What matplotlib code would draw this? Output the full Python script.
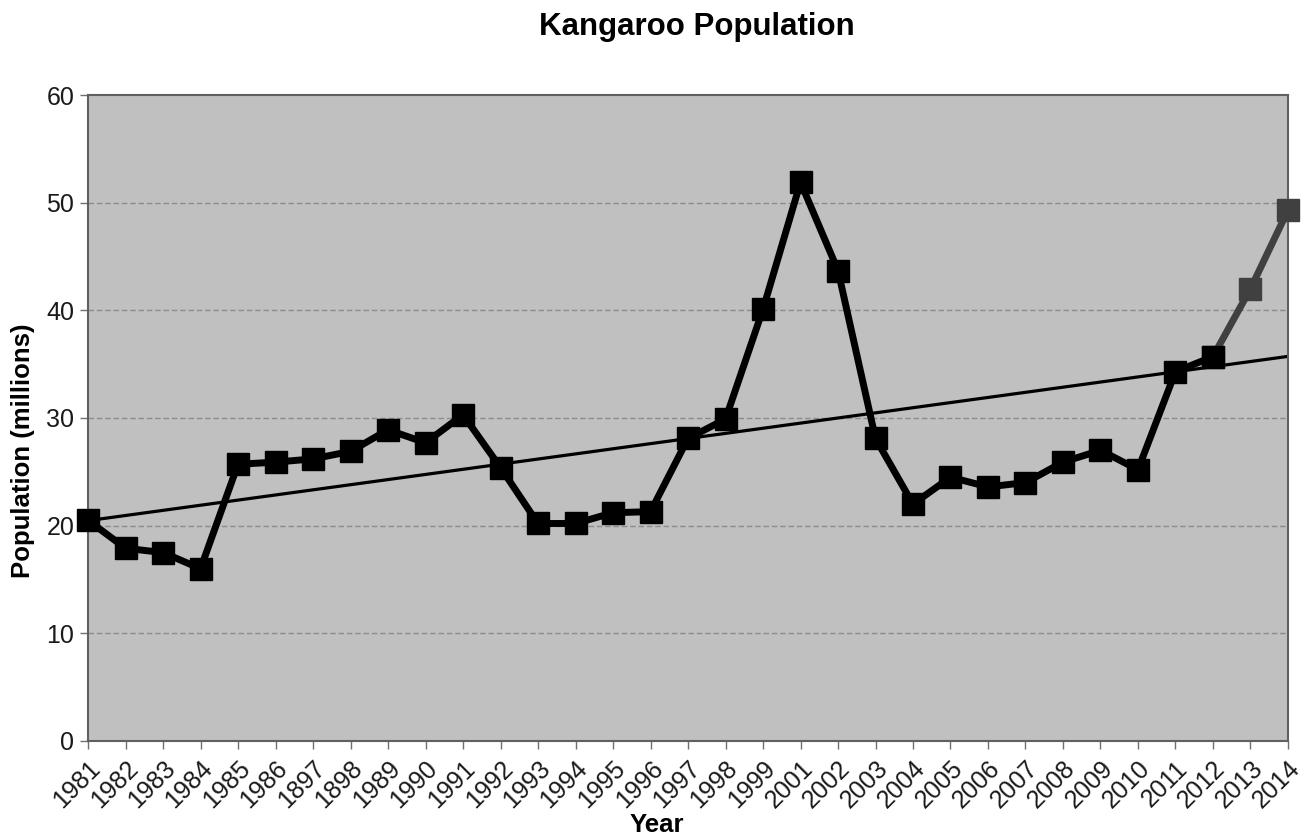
import numpy as np
import matplotlib
matplotlib.use("Agg")
import matplotlib.pyplot as plt

plt.rcParams['font.family'] = ['Liberation Sans', 'DejaVu Sans']

years = ['1981', '1982', '1983', '1984', '1985', '1986', '1897', '1898', '1989', '1990',
         '1991', '1992', '1993', '1994', '1995', '1996', '1997', '1998', '1999', '2001',
         '2002', '2003', '2004', '2005', '2006', '2007', '2008', '2009', '2010', '2011',
         '2012', '2013', '2014']
population = [20.5, 17.9, 17.5, 16.0, 25.7, 25.9, 26.2, 26.9, 28.9, 27.7,
              30.3, 25.4, 20.2, 20.2, 21.2, 21.3, 28.1, 29.9, 40.1, 51.9,
              43.7, 28.1, 22.0, 24.5, 23.6, 24.0, 25.9, 27.0, 25.2, 34.3,
              35.7, 42.0, 49.3]
n_projected = 2  # last two points drawn in grey

x = np.arange(len(years))
y = np.array(population)

fig = plt.figure(figsize=(13.08, 8.38), dpi=100)
ax = fig.add_axes([0.0673, 0.1158, 0.9174, 0.7708])
ax.set_facecolor('#c0c0c0')

for v in range(10, 60, 10):
    ax.axhline(v, color='#8c8c8c', lw=1.0, ls=(0, (4, 2)), zorder=1)

# linear trend over all points
k, b = np.polyfit(x, y, 1)
ax.plot([x[0], x[-1]], [k * x[0] + b, k * x[-1] + b], color='black', lw=2.3, zorder=2)

cut = len(x) - n_projected
ax.plot(x[cut - 1:], y[cut - 1:], color='#404040', lw=5, marker='s', ms=16, zorder=3, clip_on=False)
ax.plot(x[:cut], y[:cut], color='black', lw=5, marker='s', ms=16, zorder=4, clip_on=False)

ax.set_xlim(0, len(x) - 1)
ax.set_ylim(0, 60)
ax.set_yticks(range(0, 61, 10))
ax.set_xticks(x)
ax.set_xticklabels(years, rotation=45, ha='right', va='top', rotation_mode='anchor')
ax.tick_params(axis='both', color='#707070', length=6, width=1, labelcolor='#1a1a1a')
ax.tick_params(axis='y', labelsize=18, pad=4)
ax.tick_params(axis='x', labelsize=18, pad=5)
for s in ax.spines.values():
    s.set_color('#606060')
    s.set_linewidth(1.5)

ax.set_ylabel('Population (millions)', fontsize=18.5, fontweight='bold', va='center')
ax.yaxis.set_label_coords(-0.054, 0.45)
ax.set_xlabel('Year', fontsize=18.5, fontweight='bold', va='center')
ax.xaxis.set_label_coords(0.474, -0.13)
fig.suptitle('Kangaroo Population', x=0.533, y=0.968, fontsize=22.5, fontweight='bold', va='center')

fig.savefig('out.png', dpi=100)
